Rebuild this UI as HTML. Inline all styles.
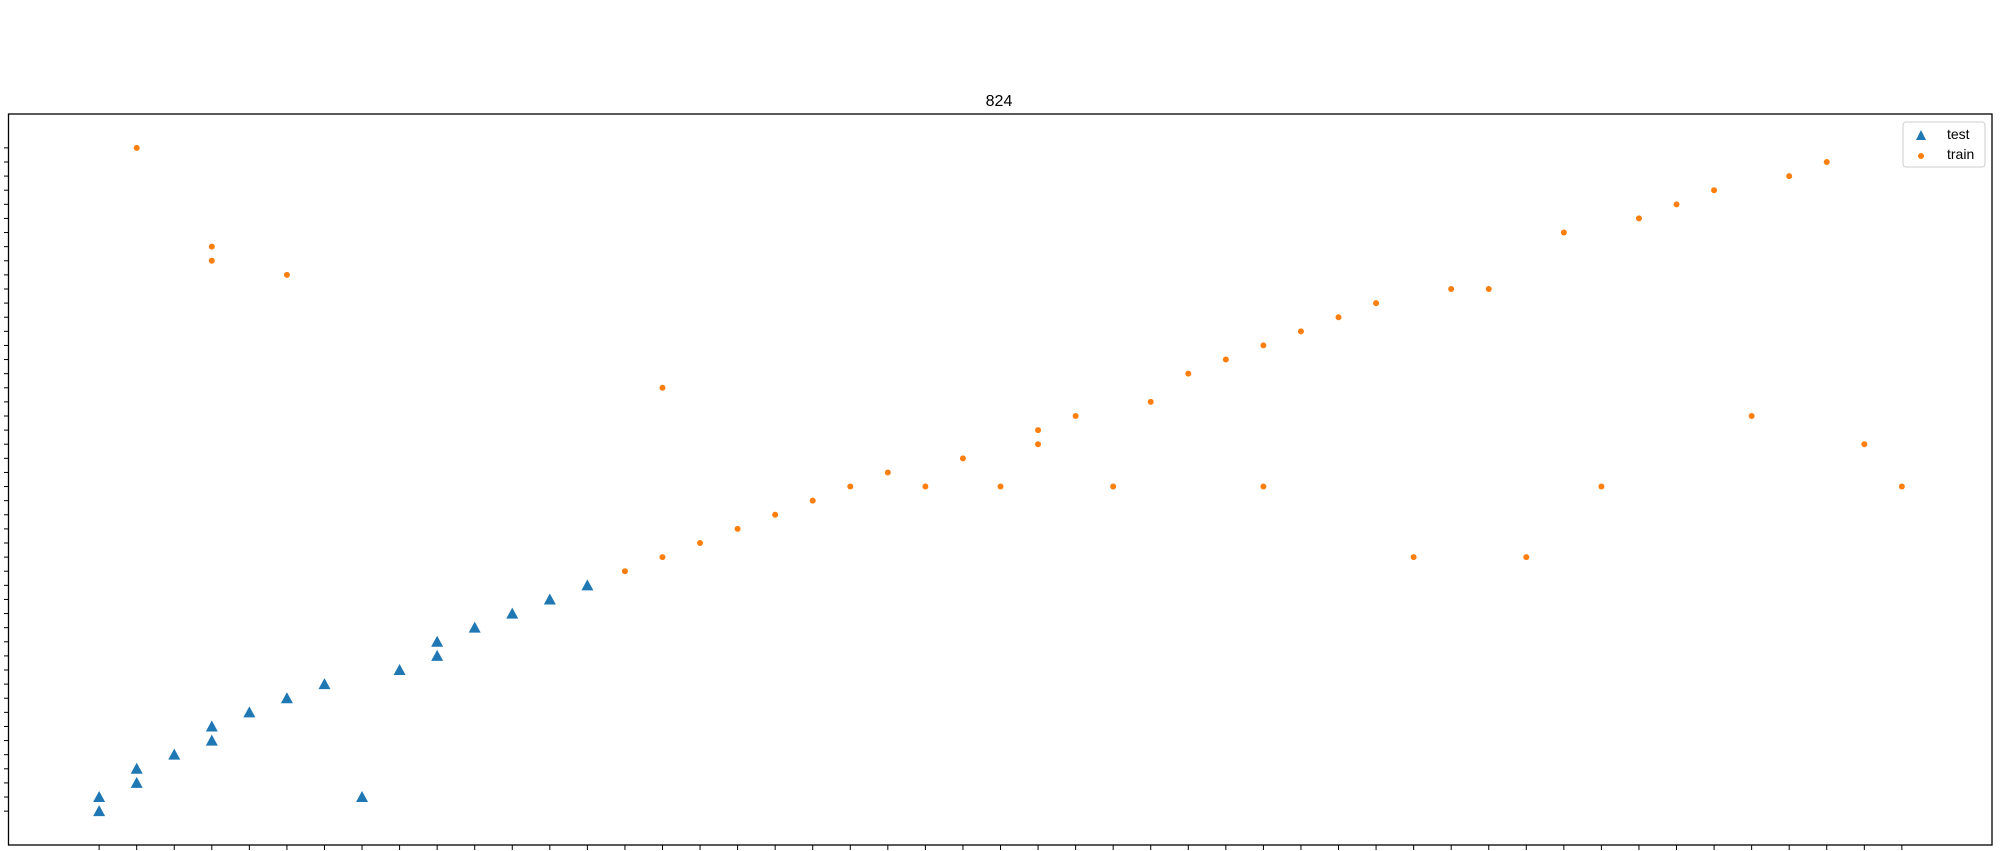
<!DOCTYPE html>
<html><head><meta charset="utf-8"><style>
body{margin:0;background:#fff;}
svg{display:block;font-family:"Liberation Sans","DejaVu Sans",sans-serif;}
</style></head><body>
<svg id="chart" width="2003" height="851" viewBox="0 0 2003 851" xmlns="http://www.w3.org/2000/svg">
<rect width="2003" height="851" fill="#fff"/>
<text x="999" y="106" font-size="16" text-anchor="middle" fill="#000">824</text>
<g id="ticks"></g>
<g id="marks"></g>
<rect x="8.5" y="114" width="1983.5" height="731" fill="none" stroke="#000" stroke-width="1.3"/>
<g>
<rect x="1903" y="122" width="82" height="45" rx="3" fill="#fff" fill-opacity="0.8" stroke="#ccc" stroke-width="1"/>
<polygon points="1921,130 1926,140 1916,140" fill="#1f77b4"/>
<text x="1947" y="139" font-size="14" fill="#000">test</text>
<circle cx="1921" cy="156" r="3" fill="#ff7f0e"/>
<text x="1947" y="159" font-size="14" fill="#000">train</text>
</g>
</svg>
<script>
const testX=[0,0,1,1,2,3,3,4,5,6,7,8,9,9,10,11,12,13];
const testY=[0,1,2,3,4,5,6,7,8,9,1,10,11,12,13,14,15,16];
const trainX=[1,3,3,5,14,15,15,16,17,18,19,20,21,22,23,24,25,25,26,27,28,29,30,31,31,32,33,34,35,36,37,38,39,40,41,42,43,44,45,46,47,48];
const trainY=[47,40,39,38,17,18,30,19,20,21,22,23,24,23,25,23,26,27,28,23,29,31,32,33,23,34,35,36,18,37,37,18,41,23,42,43,44,28,45,46,26,23];
const xTicks=[...Array(49).keys()];
const yTicks=[...Array(48).keys()];
const L=9,R=1992,T=114,B=845;
const xMin=-2.4,xMax=50.4,yMin=-2.4,yMax=49.4;
function sx(v){return L+(v-xMin)/(xMax-xMin)*(R-L);}
function sy(v){return B-(v-yMin)/(yMax-yMin)*(B-T);}
const NS="http://www.w3.org/2000/svg";
const tg=document.getElementById('ticks'),mg=document.getElementById('marks');
xTicks.forEach(t=>{const l=document.createElementNS(NS,'line');
l.setAttribute('x1',sx(t));l.setAttribute('x2',sx(t));l.setAttribute('y1',B);l.setAttribute('y2',B+5);l.setAttribute('stroke','#000');


tg.appendChild(l);});
yTicks.forEach(t=>{const l=document.createElementNS(NS,'line');
l.setAttribute('x1',L-5);l.setAttribute('x2',L);l.setAttribute('y1',sy(t));l.setAttribute('y2',sy(t));l.setAttribute('stroke','#000');


tg.appendChild(l);});
testX.forEach((x,i)=>{const cx=sx(x),cy=sy(testY[i]);const p=document.createElementNS(NS,'polygon');
p.setAttribute('points',`${cx},${cy-6} ${cx+6},${cy+5} ${cx-6},${cy+5}`);p.setAttribute('fill','#1f77b4');


mg.appendChild(p);});
trainX.forEach((x,i)=>{const c=document.createElementNS(NS,'circle');
c.setAttribute('cx',sx(x));c.setAttribute('cy',sy(trainY[i]));c.setAttribute('r',3);c.setAttribute('fill','#ff7f0e');


mg.appendChild(c);});
</script>
</body></html>
